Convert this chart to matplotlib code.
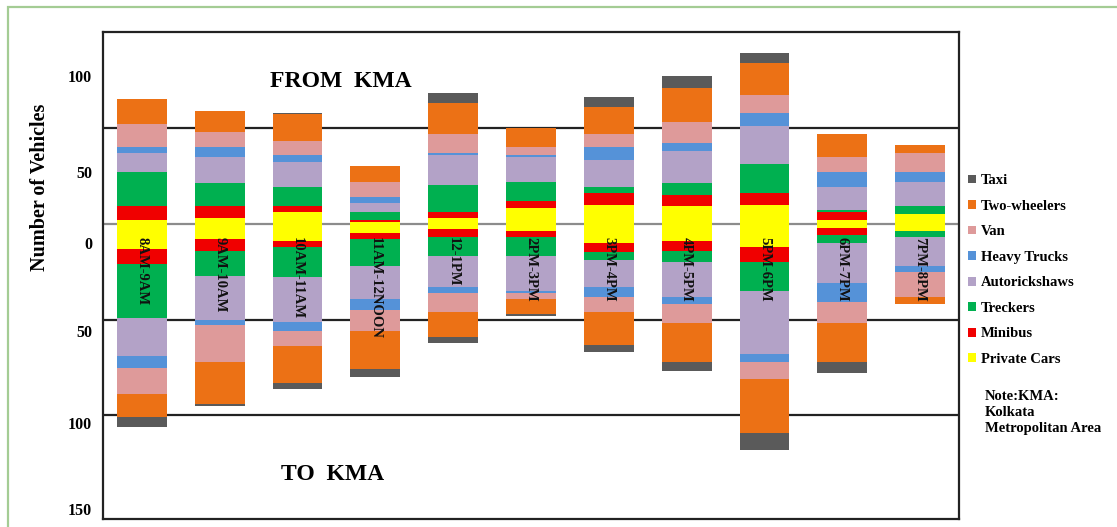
import numpy as np
import matplotlib.pyplot as plt
from matplotlib.patches import Patch, Rectangle

plt.rcParams['font.family'] = ['Liberation Serif', 'DejaVu Serif']
plt.rcParams['font.weight'] = 'bold'

slots = ['8AM-9AM', '9AM-10AM', '10AM-11AM', '11AM-12NOON', '12-1PM', '2PM-3PM',
         '3PM-4PM', '4PM-5PM', '5PM-6PM', '6PM-7PM', '7PM-8PM']

# stacking order, from the zero line outwards
vehicles = ['Private Cars', 'Minibus', 'Treckers', 'Autorickshaws',
            'Heavy Trucks', 'Van', 'Two-wheelers', 'Taxi']
colors = ['#FFFF00', '#F00000', '#00B050', '#B3A2C7',
          '#5592D8', '#DE9A9A', '#EC7115', '#5A5A5A']

# vehicles leaving KMA (drawn upwards)
from_private_cars = [2, 3, 6, 1, 3, 8, 10, 9, 10, 2, 5]
from_minibus = [7, 6, 3, 1, 3, 4, 6, 6, 6, 4, 0]
from_treckers = [18, 12, 10, 4, 14, 10, 3, 6, 15, 1, 4]
from_autorickshaws = [10, 14, 13, 5, 16, 13, 14, 17, 20, 12, 13]
from_heavy_trucks = [3, 5, 4, 3, 1, 1, 7, 4, 7, 8, 5]
from_van = [12, 8, 7, 8, 10, 4, 7, 11, 9, 8, 10]
from_two_wheelers = [13, 11, 14, 8, 16, 10, 14, 18, 17, 12, 4]
from_taxi = [0, 0, 1, 0, 5, 0, 5, 6, 5, 0, 0]

# vehicles entering KMA (drawn downwards)
to_private_cars = [13, 8, 9, 5, 3, 4, 10, 9, 12, 2, 4]
to_minibus = [8, 6, 3, 3, 4, 3, 5, 5, 8, 4, 0]
to_treckers = [28, 13, 16, 14, 10, 10, 4, 6, 15, 4, 3]
to_autorickshaws = [20, 23, 23, 17, 16, 18, 14, 18, 33, 21, 15]
to_heavy_trucks = [6, 3, 5, 6, 3, 1, 5, 4, 4, 10, 3]
to_van = [14, 19, 8, 11, 10, 3, 8, 10, 9, 11, 13]
to_two_wheelers = [12, 22, 19, 20, 13, 8, 17, 20, 28, 20, 4]
to_taxi = [5, 1, 3, 4, 3, 1, 4, 5, 9, 6, 0]

from_kma = [from_private_cars, from_minibus, from_treckers, from_autorickshaws,
            from_heavy_trucks, from_van, from_two_wheelers, from_taxi]
to_kma = [to_private_cars, to_minibus, to_treckers, to_autorickshaws,
          to_heavy_trucks, to_van, to_two_wheelers, to_taxi]

tick_pos = [77, 27, -10, -56, -104, -149]
tick_labels = ['100', '50', '0', '50', '100', '150']

fig = plt.figure(figsize=(11.17, 5.27), dpi=100)
ax = fig.add_axes([103 / 1117, 8 / 527, 856 / 1117, 487 / 527])

x = np.arange(len(slots))
width = 0.64

for ref in (50, -50, -100):
    ax.axhline(ref, color='#222222', lw=1.6, zorder=0)
ax.axhline(0, color='#8C8C8C', lw=1.6, zorder=0)

up = np.zeros(len(slots))
down = np.zeros(len(slots))
for name, col, fv, tv in zip(vehicles, colors, from_kma, to_kma):
    fv = np.array(fv, dtype=float)
    tv = np.array(tv, dtype=float)
    ax.bar(x, fv, width, bottom=up, color=col, label=name, zorder=2)
    ax.bar(x, -tv, width, bottom=-down, color=col, zorder=2)
    up += fv
    down += tv

for xi, s in zip(x, slots):
    ax.text(xi, -7, s, rotation=-90, ha='center', va='top',
            fontsize=10.5, fontweight='bold', color='#111111', zorder=3)

ax.text(2.55, 74, 'FROM  KMA', ha='center', va='center', fontsize=17, fontweight='bold')
ax.text(2.45, -131, 'TO  KMA', ha='center', va='center', fontsize=17, fontweight='bold')

ax.set_xlim(-0.5, len(slots) - 0.5)
ax.set_ylim(-154, 100)
ax.set_xticks([])
ax.set_yticks(tick_pos)
ax.set_yticklabels(tick_labels, fontsize=11.5, fontweight='bold')
ax.tick_params(axis='y', length=0, pad=8)
for sp in ax.spines.values():
    sp.set_color('#222222')
    sp.set_linewidth(1.6)

fig.text(40 / 1117, 1 - 187 / 527, 'Number of Vehicles', rotation=90,
         ha='center', va='center', fontsize=14.5, fontweight='bold')

handles = [Patch(facecolor=c, label=v) for v, c in zip(vehicles, colors)][::-1]
fig.legend(handles=handles, loc='upper left', bbox_to_anchor=(955 / 1117, 1 - 161 / 527),
           frameon=False, handlelength=0.55, handleheight=0.55,
           handletextpad=0.3, labelspacing=0.86, prop={'weight': 'bold', 'size': 10.5})

fig.text(985 / 1117, 1 - 390 / 527, 'Note:KMA:\nKolkata\nMetropolitan Area',
         ha='left', va='top', fontsize=10.5, fontweight='bold', linespacing=1.3)

# light green border round the figure
fig.patches.append(Rectangle((8 / 1117, -0.1), 1.2, 1 - 7 / 527 + 0.1, transform=fig.transFigure,
                             fill=False, edgecolor='#A4CC94', lw=1.6, zorder=0))

fig.savefig('out.png', dpi=100)
